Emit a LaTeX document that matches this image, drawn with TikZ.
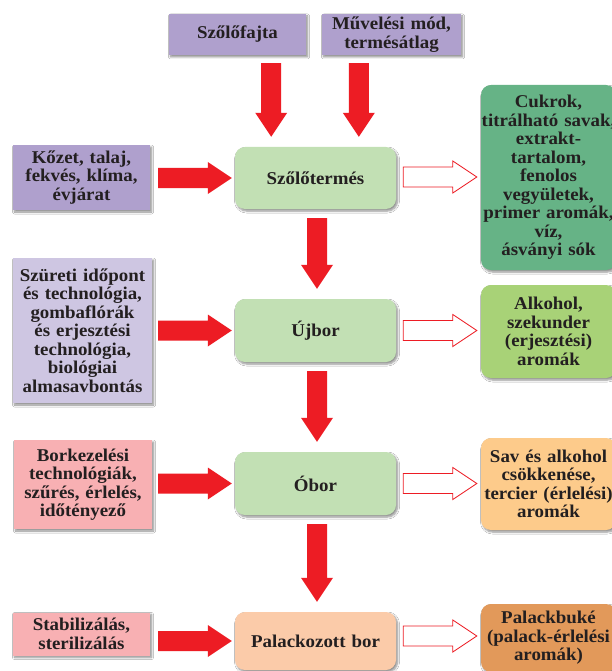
\documentclass[tikz,border=0pt]{standalone}
\usepackage{fontspec}
\setmainfont{Liberation Serif}[FakeStretch=1.05]
\usetikzlibrary{calc,shadows.blur}
\definecolor{txt}{HTML}{231F20}
\definecolor{purp}{HTML}{AFA0CD}
\definecolor{lpurp}{HTML}{CEC6E2}
\definecolor{pinkb}{HTML}{F8B0B3}
\definecolor{mgreen}{HTML}{C2E0B4}
\definecolor{peach}{HTML}{FBCBA9}
\definecolor{dgreen}{HTML}{66B386}
\definecolor{ygreen}{HTML}{A8D277}
\definecolor{lorange}{HTML}{FDCB8B}
\definecolor{dorange}{HTML}{E2995A}
\definecolor{redar}{HTML}{ED1C24}
\tikzset{
  base/.style={inner sep=0pt, align=center, text=txt,
    font=\bfseries\fontsize{18}{18.5}\selectfont,
    blur shadow={shadow xshift=1.5pt, shadow yshift=-2pt, shadow blur radius=2pt, shadow blur steps=6, shadow opacity=45}},
  sqbox/.style={base, rectangle},
  rdbox/.style={base, rectangle, rounded corners=10pt},
  redarrow/.style={fill=redar, draw=none},
  hollowarrow/.style={fill=white, draw=redar, line width=0.8pt},
}
% horizontal block arrow: style, from, to
\newcommand{\harrow}[3]{%
  \path[#1] let \p1=#2, \p2=#3 in
    (\x1,{\y1+10pt}) -- ({\x2-24pt},{\y1+10pt}) -- ({\x2-24pt},{\y1+16pt}) -- (\x2,\y1)
    -- ({\x2-24pt},{\y1-16pt}) -- ({\x2-24pt},{\y1-10pt}) -- (\x1,{\y1-10pt}) -- cycle;}
% vertical (downward) block arrow: style, from, to
\newcommand{\varrow}[3]{%
  \path[#1] let \p1=#2, \p2=#3 in
    ({\x1-10pt},\y1) -- ({\x1-10pt},{\y2+24pt}) -- ({\x1-16pt},{\y2+24pt}) -- (\x1,\y2)
    -- ({\x1+16pt},{\y2+24pt}) -- ({\x1+10pt},{\y2+24pt}) -- ({\x1+10pt},\y1) -- cycle;}
\begin{document}
\begin{tikzpicture}[x=1pt,y=-1pt]
\useasboundingbox[fill=white] (0,0) rectangle (612,671);
% top inputs
\node[sqbox, fill=purp, minimum width=137pt, minimum height=41pt, text width=133pt] (fajta) at (237.5,34.5) {Szőlőfajta};
\node[sqbox, fill=purp, minimum width=139pt, minimum height=41pt, text width=135pt] (muv) at (391.5,34.5) {Művelési mód,\\termésátlag};
% left inputs
\node[sqbox, fill=purp, minimum width=137pt, minimum height=65pt, text width=133pt] (kozet) at (81.5,177.5) {Kőzet, talaj,\\fekvés, klíma,\\évjárat};
\node[sqbox, fill=lpurp, minimum width=139pt, minimum height=145pt, text width=135pt] (szureti) at (82.5,330.5) {Szüreti időpont\\és technológia,\\gombaflórák\\és erjesztési\\technológia,\\biológiai\\almasavbontás};
\node[sqbox, fill=pinkb, minimum width=138pt, minimum height=89pt, text width=134pt] (borkez) at (83,484.5) {Borkezelési\\technológiák,\\szűrés, érlelés,\\időtényező};
\node[sqbox, fill=pinkb, minimum width=137pt, minimum height=43pt, text width=133pt] (stab) at (81.5,634) {Stabilizálás,\\sterilizálás};
% main column
\node[rdbox, fill=mgreen, minimum width=161pt, minimum height=62pt, text width=157pt] (szt) at (315.5,178) {Szőlőtermés};
\node[rdbox, fill=mgreen, minimum width=161pt, minimum height=63pt, text width=157pt] (ujbor) at (315.5,330.5) {Újbor};
\node[rdbox, fill=mgreen, minimum width=161pt, minimum height=63pt, text width=157pt] (obor) at (315.5,483.5) {Óbor};
\node[rdbox, fill=peach, minimum width=161pt, minimum height=58pt, text width=157pt] (palack) at (315.5,641) {Palackozott bor};
% right outputs
\node[rdbox, fill=dgreen, minimum width=135pt, minimum height=185pt, text width=135pt] (cukrok) at (548.5,177.5) {Cukrok,\\\makebox[0pt][c]{titrálható savak,}\\extrakt-\\tartalom,\\fenolos\\vegyületek,\\primer aromák,\\víz,\\ásványi sók};
\node[rdbox, fill=ygreen, minimum width=135pt, minimum height=93pt, text width=133pt] (alkohol) at (548.5,331.5) {Alkohol,\\szekunder\\(erjesztési)\\aromák};
\node[rdbox, fill=lorange, minimum width=135pt, minimum height=92pt, text width=133pt] (sav) at (548.5,484) {Sav és alkohol\\csökkenése,\\tercier (érlelési)\\aromák};
\node[rdbox, fill=dorange, minimum width=135pt, minimum height=68pt, text width=133pt] (buke) at (548.5,638) {Palackbuké\\(palack-érlelési\\aromák)};
% arrow end points
\coordinate (t1s) at ($(fajta.south east)+(-35,8)$);
\coordinate (t1e) at ($(t1s |- szt.north)+(0,-10)$);
\coordinate (t2s) at ($(muv.south west)+(37,8)$);
\coordinate (t2e) at ($(t2s |- szt.north)+(0,-10)$);
% top arrows
\varrow{redarrow}{(t1s)}{(t1e)}
\varrow{redarrow}{(t2s)}{(t2e)}
% down arrows in main column
\varrow{redarrow}{($(szt.south)+(1.5,9)$)}{($(ujbor.north)+(1.5,-10)$)}
\varrow{redarrow}{($(ujbor.south)+(1.5,9)$)}{($(obor.north)+(1.5,-10)$)}
\varrow{redarrow}{($(obor.south)+(1.5,9)$)}{($(palack.north)+(1.5,-10)$)}
% left arrows
\harrow{redarrow}{($(kozet.east |- szt.west)+(8,0)$)}{($(szt.west)+(-3,0)$)}
\harrow{redarrow}{($(szureti.east |- ujbor.west)+(6,0)$)}{($(ujbor.west)+(-3,0)$)}
\harrow{redarrow}{($(borkez.east |- obor.west)+(6,0)$)}{($(obor.west)+(-3,0)$)}
\harrow{redarrow}{($(stab.east |- palack.west)+(8,0)$)}{($(palack.west)+(-3,0)$)}
% hollow arrows
\harrow{hollowarrow}{($(szt.east)+(7,-1)$)}{($(cukrok.west |- szt.east)+(-4,-1)$)}
\harrow{hollowarrow}{($(ujbor.east)+(7,0)$)}{($(alkohol.west |- ujbor.east)+(-4,0)$)}
\harrow{hollowarrow}{($(obor.east)+(7,0)$)}{($(sav.west |- obor.east)+(-4,0)$)}
\harrow{hollowarrow}{($(palack.east)+(7,-5)$)}{($(buke.west |- palack.east)+(-4,-5)$)}
\end{tikzpicture}
\end{document}
